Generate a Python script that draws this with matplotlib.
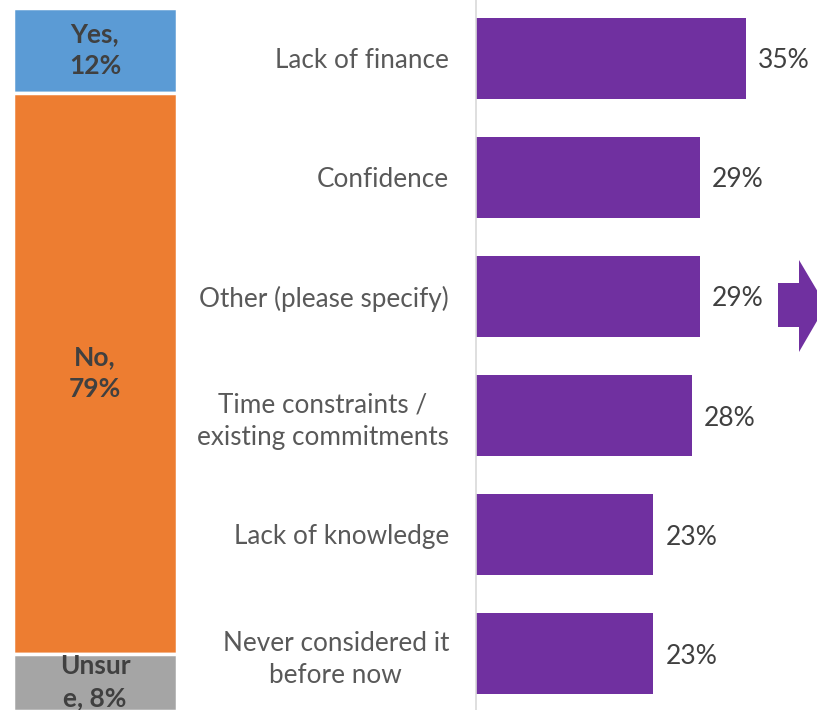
import matplotlib
matplotlib.use("Agg")
import matplotlib.pyplot as plt
from matplotlib.patches import Polygon

# ---- data ----
stack_labels = ["Yes,\n12%", "No,\n79%", "Unsur\ne, 8%"]
stack_values = [12, 79, 8]
stack_colors = ["#5B9BD5", "#ED7D31", "#A5A5A5"]

categories = ["Lack of finance", "Confidence", "Other (please specify)",
              "Time constraints /\nexisting commitments", "Lack of knowledge",
              "Never considered it\nbefore now"]
values = [35, 29, 29, 28, 23, 23]
bar_color = "#7030A0"

plt.rcParams['font.family'] = ['Lato', 'DejaVu Sans']

W, H = 817, 710
fig = plt.figure(figsize=(W / 100, H / 100), dpi=100)

# ---- left stacked bar ----
axl = fig.add_axes([13 / W, 0, 164 / W, 1 - 7.5 / H])
bottom = 0
for lab, v, c in zip(stack_labels, stack_values, stack_colors):
    axl.bar(0, v, bottom=bottom, width=1.0, color=c, edgecolor="white", linewidth=2.5)
    axl.text(0, bottom + v / 2, lab, ha="center", va="center", fontsize=19,
             fontweight="bold", color="#404040", linespacing=1.4)
    bottom += v
axl.set_xlim(-0.5, 0.5)
axl.set_ylim(98.9, 0)
axl.axis("off")

# ---- right horizontal bars ----
axr = fig.add_axes([476 / W, 0, (W - 476) / W, 1])
ypos = list(range(len(categories)))
axr.barh(ypos, values, height=0.68, color=bar_color)
for y, v in zip(ypos, values):
    axr.text(v + 1.55, y + 0.022, f"{v}%", va="center", ha="left", fontsize=19, color="#404040")
axr.set_xlim(0, 44.2)
axr.set_ylim(5.475, -0.49)
axr.set_yticks(ypos)
axr.set_yticklabels(categories, fontsize=18.8, color="#595959", multialignment="center",
                    linespacing=1.36)
axr.tick_params(axis="y", length=0, pad=19.5)
axr.set_xticks([])
for s in ["top", "right", "bottom"]:
    axr.spines[s].set_visible(False)
axr.spines["left"].set_color("#D9D9D9")
axr.spines["left"].set_linewidth(1.2)

# ---- decorative arrow ----
pts = [(778, 283), (799, 283), (799, 260), (826, 305.5), (799, 352), (799, 327), (778, 327)]
pts = [(x / W, 1 - y / H) for x, y in pts]
fig.patches.append(Polygon(pts, closed=True, transform=fig.transFigure,
                           facecolor=bar_color, edgecolor="none"))

fig.savefig("out.png", dpi=100)
